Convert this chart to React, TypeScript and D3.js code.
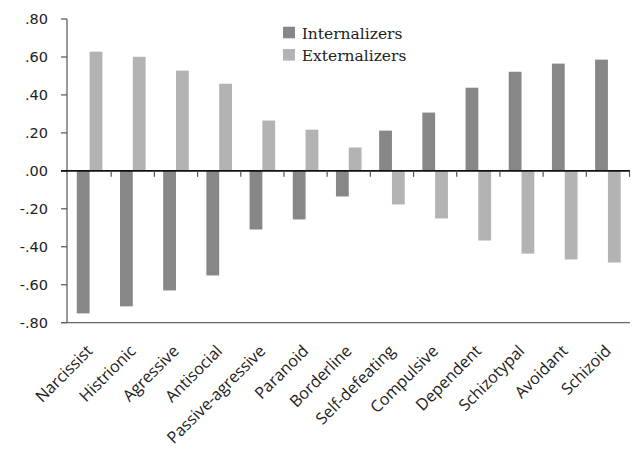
import React from "react";
import * as d3 from "d3";

const categories = [
  "Narcissist", "Histrionic", "Agressive", "Antisocial", "Passive-agressive",
  "Paranoid", "Borderline", "Self-defeating", "Compulsive", "Dependent",
  "Schizotypal", "Avoidant", "Schizoid",
];
const internalizers = [-0.751, -0.714, -0.63, -0.551, -0.309, -0.256, -0.135, 0.212, 0.307, 0.438, 0.522, 0.565, 0.586];
const externalizers = [0.628, 0.601, 0.528, 0.459, 0.265, 0.217, 0.123, -0.177, -0.251, -0.367, -0.436, -0.467, -0.483];
const seriesNames = ["Internalizers", "Externalizers"];
const seriesColors = ["#878787", "#b3b3b3"];
const yTicks = [0.8, 0.6, 0.4, 0.2, 0, -0.2, -0.4, -0.6, -0.8];

const W = 635, H = 463;
const axisX = 67;

export default function App() {
  const x = d3.scaleBand<string>().domain(categories).range([68, 629.5]).padding(0);
  const step = x.bandwidth();
  const pad = 8.8;
  const inner = d3.scaleBand<string>().domain(seriesNames).range([pad, step - pad]).padding(0);
  const y = d3.scaleLinear().domain([-0.8, 0.8]).range([322.7, 19]);
  const fmt = (v: number) => {
    const s = d3.format(".2f")(Math.abs(v)).replace(/^0/, "");
    return v < 0 ? "-" + s : s;
  };
  const series = [internalizers, externalizers];

  return (
    <svg width={W} height={H} style={{ position: "absolute", left: 0, top: 0, background: "#fff" }}>
      {series.map((vals, si) =>
        vals.map((v, i) => {
          const bx = (x(categories[i]) as number) + (inner(seriesNames[si]) as number);
          return (
            <rect
              key={si + "-" + i}
              x={bx}
              width={inner.bandwidth()}
              y={Math.min(y(v), y(0))}
              height={Math.abs(y(v) - y(0))}
              fill={seriesColors[si]}
            />
          );
        })
      )}
      <line x1={axisX} x2={axisX} y1={y(0.8)} y2={y(-0.8)} stroke="#555" strokeWidth={1.2} />
      {yTicks.map((t) => (
        <g key={t}>
          <line x1={axisX - 6} x2={axisX} y1={y(t)} y2={y(t)} stroke="#555" strokeWidth={1.2} />
          <text
            x={48}
            y={y(t)}
            dy="0.35em"
            textAnchor="end"
            fontFamily="DejaVu Sans"
            fontSize={14.5}
            fill="#222"
          >
            {fmt(t)}
          </text>
        </g>
      ))}
      <line x1={axisX - 6} x2={630} y1={y(-0.8)} y2={y(-0.8)} stroke="#666" strokeWidth={1.2} />
      <line x1={axisX - 6} x2={630} y1={y(0)} y2={y(0)} stroke="#111" strokeWidth={1.6} />
      {categories.map((c) => (
        <line
          key={"t" + c}
          x1={(x(c) as number) + step}
          x2={(x(c) as number) + step}
          y1={y(0)}
          y2={y(0) + 6}
          stroke="#555"
          strokeWidth={1.2}
        />
      ))}
      {categories.map((c) => {
        const cx = (x(c) as number) + step / 2 + 4;
        const cy = 352;
        return (
          <text
            key={"l" + c}
            transform={`translate(${cx},${cy}) rotate(-45)`}
            textAnchor="end"
            fontFamily="Open Sans"
            fontSize={16.2}
            fill="#222"
          >
            {c}
          </text>
        );
      })}
      {seriesNames.map((s, i) => (
        <g key={"lg" + s} transform={`translate(283,${26.7 + i * 22.3})`}>
          <rect x={0} y={0} width={12} height={11.6} fill={seriesColors[i]} />
          <text x={18.7} y={12.3} fontFamily="DejaVu Serif" fontSize={15.5} fill="#222">
            {s}
          </text>
        </g>
      ))}
    </svg>
  );
}
